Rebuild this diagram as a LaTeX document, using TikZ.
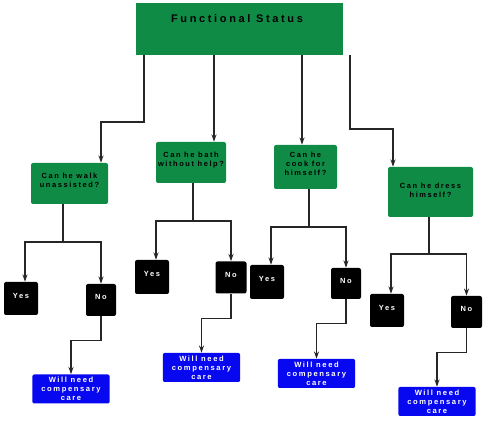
\documentclass[tikz,border=0pt]{standalone}
\usepackage{fontspec}
\usepackage{tikz}
\usetikzlibrary{calc,arrows.meta}

\newfontfamily\titlefont[LetterSpace=24]{Liberation Sans}
\newfontfamily\boxfont[LetterSpace=21]{Liberation Sans}

\definecolor{boxgreen}{RGB}{16,139,70}
\definecolor{careblue}{RGB}{8,8,240}

\tikzset{
	link/.style={draw=black!85, line width=0.95pt, -{Stealth[length=5.5pt,width=3.8pt]}},
	stem/.style={draw=black!85, line width=0.95pt},
	statusbox/.style={fill=boxgreen, draw=white, minimum width=156pt, minimum height=39.75pt, inner sep=0pt},
	askbox/.style={fill=boxgreen, rounded corners=1.5pt, inner sep=0pt, align=center, text depth=5pt,
		font=\boxfont\bfseries\fontsize{5.6}{6.8}\selectfont},
	yesbox/.style={fill=black, text=white, rounded corners=1.5pt, inner sep=0pt, text depth=4.5pt,
		font=\boxfont\bfseries\fontsize{5.6}{6.8}\selectfont},
	carebox/.style={fill=careblue, text=white, rounded corners=1.5pt, inner sep=0pt, align=center,
		minimum width=58pt, minimum height=21.75pt,
		font=\boxfont\bfseries\fontsize{5.7}{6.8}\selectfont},
}

\begin{document}
\begin{tikzpicture}[x=0.75pt, y=-0.75pt]

	% ---- frame

	\useasboundingbox (0,0) rectangle (483,438);

	% ---- title

	\node[statusbox] (status) at (239,28.5) {};
	\node[font=\titlefont\bfseries\fontsize{8.25}{10}\selectfont] (statustext) at (237,19) {Functional Status};

	% ---- questions

	\node[askbox, minimum width=57.75pt, minimum height=30.75pt] (ask1) at (69.5,183.5) {Can he walk\\unassisted?};
	\node[askbox, minimum width=52.5pt, minimum height=30.75pt] (ask2) at (191,162.5) {Can he bath\\without help?};
	\node[askbox, minimum width=47.25pt, minimum height=33pt] (ask3) at (305.5,167) {Can he\\cook for\\himself?};
	\node[askbox, minimum width=63.75pt, minimum height=37.5pt, text depth=2.5pt] (ask4) at (430.5,192) {Can he dress\\himself?};

	% ---- answers

	\node[yesbox, minimum width=25.5pt, minimum height=24.75pt] (yes1) at (21,298.5) {Yes};
	\node[yesbox, minimum width=22.5pt, minimum height=24pt] (no1) at (101,300) {No};
	\node[yesbox, minimum width=25.5pt, minimum height=25.5pt] (yes2) at (152,277) {Yes};
	\node[yesbox, minimum width=23.25pt, minimum height=24pt] (no2) at (231,277.5) {No};
	\node[yesbox, minimum width=25.5pt, minimum height=25.5pt] (yes3) at (267,282) {Yes};
	\node[yesbox, minimum width=22.5pt, minimum height=23.25pt] (no3) at (346,283.5) {No};
	\node[yesbox, minimum width=25.5pt, minimum height=24.75pt] (yes4) at (387,310.5) {Yes};
	\node[yesbox, minimum width=23.25pt, minimum height=24pt] (no4) at (466.5,312) {No};

	% ---- care

	\node[carebox] (care1) at (71,389) {Will need\\compensary\\care};
	\node[carebox] (care2) at (201.5,367.5) {Will need\\compensary\\care};
	\node[carebox] (care3) at (316.5,373.5) {Will need\\compensary\\care};
	\node[carebox] (care4) at (437,401.5) {Will need\\compensary\\care};

	% ---- status to questions

	\coordinate (elbow1) at (101,122);
	\coordinate (elbow4) at (393,129);

	\draw[link] ($(status.south)+(-95,0)$) |- (elbow1) -- (elbow1 |- ask1.north);
	\draw[link] ($(status.south)+(-25,0)$) -- ($(ask2.north)+(23,0)$);
	\draw[link] ($(status.south)+(63,0)$) -- ($(ask3.north)+(-3.5,0)$);
	\draw[link] ($(status.south)+(111,0)$) |- (elbow4) -- (elbow4 |- ask4.north);

	% ---- questions to answers

	\coordinate (fork1) at (63,242);
	\coordinate (fork2) at (193,221);
	\coordinate (fork3) at (309,227);
	\coordinate (fork4) at (429,254);

	\foreach \i in {1,...,4} {
		\draw[stem] (ask\i.south -| fork\i) -- (fork\i);
		\draw[link] (fork\i) -| ([xshift=3pt]yes\i.north);
		\draw[link] (fork\i) -| (no\i.north);
	}

	% ---- no to care

	\foreach \i in {1,...,4} { \draw[link] (no\i.south) -- ++(0,24.5) -| (care\i.north); }

\end{tikzpicture}
\end{document}
